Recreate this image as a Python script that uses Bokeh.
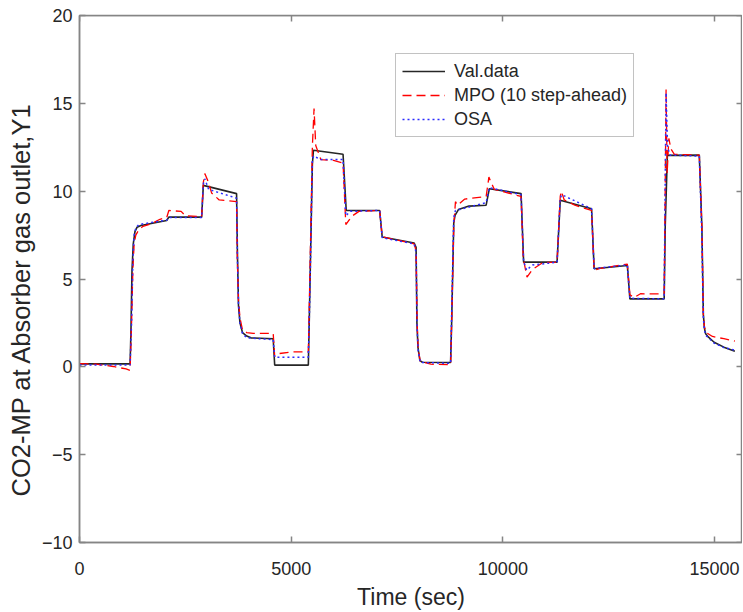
from bokeh.plotting import figure
from bokeh.models import Range1d, LinearAxis, FixedTicker, Legend, LegendItem, Title
from bokeh.embed import file_html
from bokeh.resources import INLINE

# Validation data (black solid)
val_t = [0, 1195, 1215, 1240, 1270, 1310, 1360, 1450, 2060, 2110, 2885, 2925,
         3710, 3730, 3755, 3790, 3850, 3950, 4050, 4575, 4610, 5405, 5430, 5500, 5525,
         6225, 6300, 7090, 7150, 7905, 7950, 7970, 7995, 8040, 8100, 8765, 8790, 8840,
         8870, 8950, 9200, 9605, 9680, 10430, 10490, 11280, 11355, 12095, 12155, 12940,
         13000, 13810, 13835, 13885, 14640, 14700, 14735, 14760, 14790, 14850, 14990,
         15220, 15480]
val_y = [0.17, 0.17, 2.0, 5.5, 7.0, 7.7, 7.95, 8.05, 8.33, 8.52, 8.52, 10.33,
         9.86, 6.5, 3.5, 2.5, 1.95, 1.75, 1.65, 1.6, 0.1, 0.1, 3.0, 11.5, 12.33,
         12.1, 8.9, 8.9, 7.39, 7.05, 6.8, 2.5, 1.1, 0.35, 0.26, 0.25, 2.5, 8.2,
         8.62, 8.95, 9.15, 9.2, 10.14, 9.86, 5.96, 5.96, 9.48, 9.0, 5.58, 5.77,
         3.87, 3.87, 8.0, 12.04, 12.05, 8.0, 3.0, 2.2, 1.88, 1.7, 1.4,
         1.12, 0.89]

# MPO (10 step-ahead) (red dashed)
mpo_t = [0, 400, 800, 1100, 1195, 1230, 1260, 1290, 1330, 1400, 1500, 1700, 1900,
         2060, 2110, 2400, 2500, 2885, 2925, 2960, 3030, 3120, 3300, 3710, 3730, 3755,
         3790, 3850, 3950, 4100, 4575, 4610, 4700, 5000, 5405, 5440, 5500, 5540, 5580,
         5700, 6000, 6225, 6290, 6350, 6450, 6600, 7090, 7150, 7905, 7950, 7975, 8000,
         8050, 8300, 8765, 8790, 8840, 8880, 8930, 9100, 9605, 9670, 9720, 9800, 10430,
         10480, 10570, 10700, 10950, 11280, 11355, 11380, 11450, 11700, 12095, 12155,
         12300, 12940, 13000, 13100, 13250, 13810, 13830, 13855, 13880, 13920, 13970,
         14050, 14640, 14700, 14735, 14760, 14790, 14950, 15220, 15480]
mpo_y = [0.18, 0.15, 0.02, -0.12, -0.2, 2.5, 5.5, 7.0, 7.5, 7.8, 8.0, 8.15, 8.4,
         8.5, 8.9, 8.85, 8.6, 8.55, 10.5, 11.0, 10.6, 9.9, 9.5, 9.4, 6.0, 3.8,
         2.8, 2.1, 1.95, 1.9, 1.9, 0.6, 0.75, 0.85, 0.85, 5.0, 12.5, 14.7, 12.6,
         11.8, 11.75, 11.6, 8.1, 8.3, 8.6, 8.85, 8.9, 7.4, 7.0, 6.6, 2.5, 1.0,
         0.3, 0.15, 0.12, 2.5, 8.0, 9.4, 9.2, 9.55, 9.7, 10.8, 10.5, 10.1, 9.7,
         6.2, 5.1, 5.55, 5.95, 5.95, 9.7, 10.0, 9.5, 9.2, 8.9, 5.5,
         5.6, 5.85, 4.1, 3.95, 4.16, 4.15, 9.0, 15.8, 11.0, 13.0, 12.4,
         12.1, 12.05, 8.0, 3.0, 2.3, 1.97, 1.73, 1.6, 1.46]

# OSA (blue dotted)
osa_t = [0, 1195, 1230, 1260, 1290, 1330, 1400, 2060, 2110, 2885, 2925, 2960, 3050,
         3710, 3730, 3755, 3790, 3850, 3950, 4575, 4610, 5405, 5440, 5500, 5530, 5700,
         6225, 6290, 6400, 7090, 7150, 7905, 7950, 7975, 8000, 8050, 8765, 8790, 8840,
         8880, 9605, 9680, 10430, 10490, 10560, 10700, 11280, 11355, 11390, 12095,
         12155, 12940, 13000, 13810, 13830, 13855, 13890, 13950, 14640, 14700, 14735,
         14760, 14790, 14990, 15220, 15480]
osa_y = [0.1, 0.1, 2.5, 6.0, 7.5, 7.9, 8.1, 8.35, 8.5, 8.5, 10.4, 10.7, 10.1,
         9.6, 6.2, 3.6, 2.5, 1.9, 1.65, 1.55, 0.55, 0.55, 4.0, 11.8, 12.0, 11.8,
         11.8, 8.6, 8.85, 8.9, 7.35, 7.0, 6.5, 2.2, 0.9, 0.25, 0.2, 3.0, 8.5,
         8.9, 9.35, 10.2, 9.8, 6.0, 5.5, 5.8, 5.95, 9.6, 9.8, 9.0,
         5.6, 5.8, 3.9, 3.87, 9.5, 15.6, 12.5, 12.05, 12.0, 7.5, 2.8,
         2.1, 1.8, 1.35, 1.1, 0.95]

x_ticks = [0, 5000, 10000, 15000]
y_ticks = [-10, -5, 0, 5, 10, 15, 20]
x_label = "Time (sec)"
y_label = "CO2-MP at Absorber gas outlet,Y1"
labels = ["Val.data", "MPO (10 step-ahead)", "OSA"]

FONT = "Liberation Sans"
AX = "#858585"
TXT = "#262626"

p = figure(width=742, height=612,
           x_range=Range1d(0, 15660), y_range=Range1d(-10, 20),
           output_backend="svg", toolbar_location=None,
           min_border_left=78, min_border_right=0, min_border_top=15,
           min_border_bottom=70)
p.xgrid.visible = False
p.ygrid.visible = False
p.outline_line_color = AX
p.outline_line_width = 1.5
p.background_fill_color = "white"
p.border_fill_color = "white"

def style(ax, ticks):
    ax.ticker = FixedTicker(ticks=ticks)
    ax.axis_line_color = AX
    ax.axis_line_width = 1.5
    ax.major_tick_line_color = AX
    ax.major_tick_line_width = 1.5
    ax.major_tick_in = 6
    ax.major_tick_out = 0
    ax.minor_tick_in = 0
    ax.minor_tick_out = 0
    ax.major_label_text_font = FONT
    ax.major_label_text_font_size = "18px"
    ax.major_label_text_color = TXT
    ax.axis_label_text_font = FONT
    ax.axis_label_text_font_size = "23px"
    ax.axis_label_text_font_style = "normal"
    ax.axis_label_text_color = TXT

style(p.xaxis[0], x_ticks)
style(p.yaxis[0], y_ticks)
p.xaxis[0].axis_label = x_label
p.xaxis[0].major_label_standoff = 19
p.xaxis[0].axis_label_standoff = 6
p.yaxis[0].major_label_standoff = 7

ytitle = Title(text=y_label, align="left", offset=46, standoff=8,
               text_font=FONT, text_font_size="25.5px", text_font_style="normal",
               text_color=TXT)
p.add_layout(ytitle, "left")

top = LinearAxis(fixed_location=20)
style(top, x_ticks)
top.major_label_text_font_size = "0px"
top.major_label_text_color = None
p.add_layout(top, "above")
right = LinearAxis(fixed_location=15660)
style(right, y_ticks)
right.major_label_text_font_size = "0px"
right.major_label_text_color = None
p.add_layout(right, "right")

r1 = p.line(val_t, val_y, line_color="#262626", line_width=1.6)
r2 = p.line(mpo_t, mpo_y, line_color="#ff0000", line_width=1.3, line_dash="9 5")
r3 = p.line(osa_t, osa_y, line_color="#2b2bff", line_width=1.5, line_dash="2 3")

legend = Legend(items=[LegendItem(label=labels[0], renderers=[r1]),
                       LegendItem(label=labels[1], renderers=[r2]),
                       LegendItem(label=labels[2], renderers=[r3])],
                location=(316, 405))
legend.label_text_font = FONT
legend.label_text_font_size = "18px"
legend.label_text_color = TXT
legend.glyph_width = 43
legend.glyph_height = 22
legend.label_height = 22
legend.label_standoff = 9
legend.spacing = 2
legend.padding = 6
legend.margin = 0
legend.border_line_color = AX
legend.border_line_width = 1.5
legend.background_fill_color = "white"
legend.background_fill_alpha = 1.0
p.add_layout(legend)

open("out.html", "w").write(file_html(p, INLINE))
